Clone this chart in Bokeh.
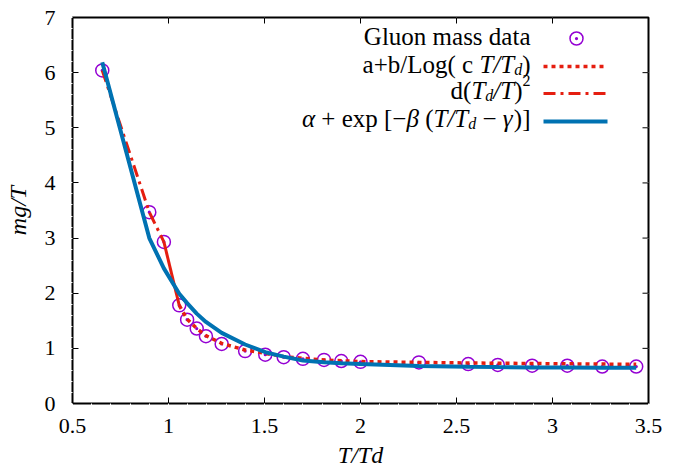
import numpy as np
from bokeh.plotting import figure
from bokeh.models import Range1d, Label
from bokeh.embed import file_html
from bokeh.resources import INLINE

# ---- data ----
T_data = [0.655, 0.900, 0.976, 1.056, 1.097, 1.147, 1.195, 1.277, 1.399, 1.504, 1.600,
          1.700, 1.810, 1.900, 2.000, 2.304, 2.561, 2.715, 2.894, 3.077, 3.259, 3.436]
m_data = [6.04, 3.47, 2.93, 1.78, 1.52, 1.36, 1.22, 1.08, 0.95, 0.885, 0.84,
          0.81, 0.79, 0.77, 0.755, 0.745, 0.715, 0.70, 0.685, 0.685, 0.67, 0.67]

# d (Td/T)^2 curve (below / around Td)
T_pow = [0.655, 0.900, 0.976, 1.056]
m_pow = [6.04, 3.47, 2.93, 1.78]

# a + b / Log(c T/Td) curve (above Td)
T_log = [1.056, 1.097, 1.147, 1.195, 1.277, 1.399, 1.504, 1.600, 1.700, 1.810,
         1.900, 2.000, 2.304, 2.561, 2.715, 2.894, 3.077, 3.259, 3.436]
m_log = [1.78, 1.53, 1.36, 1.23, 1.09, 0.97, 0.91, 0.85, 0.82, 0.79,
         0.775, 0.76, 0.745, 0.735, 0.73, 0.725, 0.72, 0.715, 0.71]

# alpha + exp[-beta (T/Td - gamma)] curve
T_exp = T_data
m_exp = [6.19, 3.00, 2.45, 1.99, 1.82, 1.63, 1.48, 1.28, 1.07, 0.93, 0.85,
         0.78, 0.75, 0.73, 0.715, 0.68, 0.665, 0.66, 0.655, 0.655, 0.65, 0.65]

x_ticks = [0.5, 1.0, 1.5, 2.0, 2.5, 3.0, 3.5]
y_ticks = [0, 1, 2, 3, 4, 5, 6, 7]
x_title = "T/Td"
y_title = "mg/T"

PURPLE = "#9400d3"
RED = "#e51e10"
BLUE = "#0072b2"
FONT = "Liberation Serif"

# ---- layout ----
W, H = 676, 470
L, R, TOP, B = 72, 28, 17, 67
X0, X1, Y0, Y1 = 0.5, 3.5, 0.0, 7.0
FW, FH = W - L - R, H - TOP - B
TICK = 6


def sx(px):
    return X0 + (px - L) / FW * (X1 - X0)


def sy(py):
    return Y1 - (py - TOP) / FH * (Y1 - Y0)


p = figure(width=W, height=H, x_range=Range1d(X0, X1), y_range=Range1d(Y0, Y1),
           output_backend="svg", toolbar_location=None,
           min_border_left=L, min_border_right=R, min_border_top=TOP, min_border_bottom=B)
# grid kept but drawn in the background colour
p.xgrid.grid_line_color = "white"
p.ygrid.grid_line_color = "white"
p.outline_line_color = "black"
p.outline_line_width = 2

for ax in (p.xaxis[0], p.yaxis[0]):
    ax.major_tick_in = TICK
    ax.major_tick_out = 1
    ax.minor_tick_line_color = "white"
    ax.major_label_text_font = FONT
    ax.major_label_text_font_size = "22px"
    ax.major_label_text_color = "black"
    ax.axis_label_text_font = FONT
    ax.axis_label_text_font_style = "italic"
    ax.axis_label_text_font_size = "24px"
    ax.axis_label_text_color = "black"

p.xaxis[0].major_label_standoff = 11
p.xaxis[0].axis_label = x_title
p.xaxis[0].axis_label_standoff = 6
p.yaxis[0].major_label_standoff = 13
p.yaxis[0].axis_label = y_title
p.yaxis[0].axis_label_standoff = 11

# mirrored ticks on the top and right edges (from the same tick arrays)
p.segment(x0=x_ticks, y0=[Y1] * len(x_ticks), x1=x_ticks,
          y1=[Y1 - TICK / FH * (Y1 - Y0)] * len(x_ticks), line_color="black", line_width=1)
p.segment(x0=[X1] * len(y_ticks), y0=y_ticks, x1=[X1 - TICK / FW * (X1 - X0)] * len(y_ticks),
          y1=y_ticks, line_color="black", line_width=1)

# ---- glyphs ----
p.scatter(T_data, m_data, marker="circle_dot", size=13, line_color=PURPLE,
          fill_color=None, line_width=1.5)
p.line(T_log, m_log, line_color=RED, line_width=3.5, line_dash="4 4")
p.line(T_pow[:3], m_pow[:3], line_color=RED, line_width=3, line_dash="12 5 3 5")
p.line(T_pow[2:], m_pow[2:], line_color=RED, line_width=3)
p.line(T_exp, m_exp, line_color=BLUE, line_width=4)

# ---- legend text helpers ----
ROMAN = {' ': 250, '(': 333, ')': 333, '+': 564, '/': 278, 'a': 444, 'b': 500, 'c': 444,
         'd': 500, 'e': 444, 'x': 500, 'p': 500, 'L': 611, 'o': 500, 'g': 500, 'G': 722,
         'l': 278, 'u': 500, 'n': 500, 'm': 778, 's': 389, 't': 278, '[': 333, ']': 333,
         '\u2212': 564, '2': 500}
ITALIC = {'T': 556, '/': 278, 'd': 500, 'g': 500, '\u03b1': 520, '\u03b2': 500, '\u03b3': 440,
          ' ': 250}


def text_w(t, style, size):
    tab = ITALIC if style == "italic" else ROMAN
    return sum(tab.get(c, 500) for c in t) * size / 1000.0


def row(pieces, right_px, base_py):
    x = right_px
    for t, style, size, dy in reversed(pieces):
        x -= text_w(t, style, size)
        lead = len(t) - len(t.lstrip(" "))
        x_text = x + lead * 250 * size / 1000.0
        p.add_layout(Label(x=sx(x_text), y=sy(base_py + dy), text=t.strip(" "), text_align="left",
                           text_baseline="alphabetic", text_font=FONT,
                           text_font_size=f"{size}px", text_font_style=style,
                           text_color="black"))


FS, SUB = 25, 16

LX = 530
row([("Gluon mass data", "normal", FS, 0)], LX, 36)
row([("a+b/Log( c ", "normal", FS, 0), ("T/T", "italic", FS, 0), ("d", "italic", SUB, 5),
     (")", "normal", FS, 0)], LX, 64)
row([("d(", "normal", FS, 0), ("T", "italic", FS, 0), ("d", "italic", SUB, 5),
     ("/T", "italic", FS, 0), (")", "normal", FS, 0), ("2", "normal", SUB, -10)], LX, 90)
row([("\u03b1", "italic", FS, 0), (" + exp [\u2212", "normal", FS, 0), ("\u03b2", "italic", FS, 0),
     (" (", "normal", FS, 0), ("T/T", "italic", FS, 0), ("d", "italic", SUB, 5),
     (" \u2212 ", "normal", FS, 0), ("\u03b3", "italic", FS, 0), (")]", "normal", FS, 0)], LX, 118)

# legend samples
p.scatter([sx(576)], [sy(38)], marker="circle_dot", size=13, line_color=PURPLE,
          fill_color=None, line_width=1.5)
p.line([sx(543), sx(607)], [sy(66), sy(66)], line_color=RED, line_width=3.5, line_dash="4 4")
p.line([sx(543), sx(607)], [sy(93), sy(93)], line_color=RED, line_width=3, line_dash="12 5 3 5")
p.line([sx(543), sx(607)], [sy(121), sy(121)], line_color=BLUE, line_width=4)

open("out.html", "w").write(file_html(p, INLINE))
